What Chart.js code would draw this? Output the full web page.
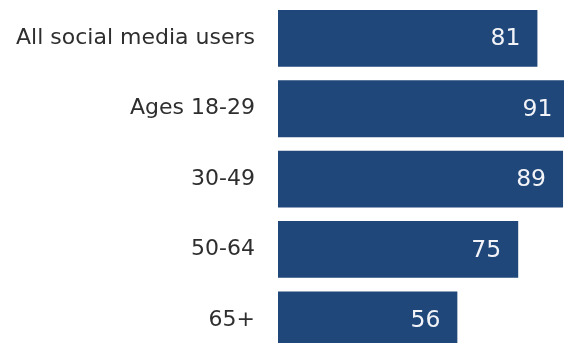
<!DOCTYPE html>
<html>
<head>
<meta charset="utf-8">
<script src="https://cdn.jsdelivr.net/npm/chart.js@4"></script>
<style>
  html, body { margin: 0; padding: 0; background: #ffffff; overflow: hidden; }
  #wrap { width: 564px; height: 355px; position: relative; }
</style>
</head>
<body>
<div id="wrap"><canvas id="c"></canvas></div>
<script>
const categories = ["All social media users", "Ages 18-29", "30-49", "50-64", "65+"];
const values = [81, 91, 89, 75, 56];
const valueLabels = ["81", "91", "89", "75", "56"];

const barColor = "#1f477a";

const valueLabelPlugin = {
  id: "valueLabels",
  afterDatasetsDraw(chart) {
    const ctx = chart.ctx;
    const meta = chart.getDatasetMeta(0);
    ctx.save();
    ctx.font = "23.5px 'DejaVu Sans'";
    ctx.fillStyle = "#f2f4f8";
    ctx.textAlign = "right";
    ctx.textBaseline = "middle";
    meta.data.forEach((bar, i) => {
      ctx.fillText(valueLabels[i], bar.x - 17, bar.y + 1);
    });
    ctx.restore();
  }
};

new Chart(document.getElementById("c"), {
  type: "bar",
  data: {
    labels: categories,
    datasets: [{
      data: values,
      backgroundColor: barColor,
      borderWidth: 0,
      categoryPercentage: 1,
      barPercentage: 0.807
    }]
  },
  options: {
    indexAxis: "y",
    responsive: true,
    maintainAspectRatio: false,
    animation: false,
    events: [],
    layout: { padding: { top: 3.2, bottom: 0, left: 0, right: 0 } },
    plugins: {
      legend: { display: false },
      tooltip: { enabled: false },
      title: { display: false }
    },
    scales: {
      x: {
        display: false,
        min: 0,
        max: 89.3
      },
      y: {
        grid: { display: false, drawTicks: false },
        border: { display: false },
        ticks: {
          font: { family: "'DejaVu Sans'", size: 22 },
          color: "#2e2e2e",
          padding: 23
        },
        afterFit(scale) {
          scale.width = 278;
          scale.paddingTop = 0;
          scale.paddingBottom = 0;
        }
      }
    }
  },
  plugins: [valueLabelPlugin]
});
</script>
</body>
</html>
